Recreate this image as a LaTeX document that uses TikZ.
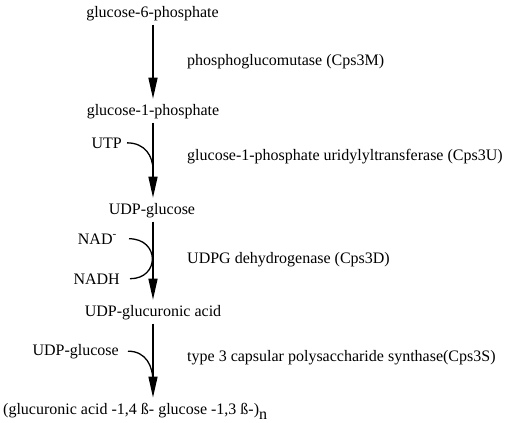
\documentclass[tikz,border=0pt]{standalone}
\usepackage{fontspec}
\setmainfont{Liberation Serif}
\usetikzlibrary{arrows.meta}
\begin{document}
\begin{tikzpicture}[x=1pt,y=-1pt,
  lbl/.style={inner sep=0pt,anchor=base,font=\fontsize{16}{19}\selectfont},
  enz/.style={lbl,anchor=base west},
  sidelbl/.style={lbl,anchor=base east},
  rxn/.style={line width=1.4pt,-{Triangle[length=21pt,width=9pt]},shorten <=4pt,shorten >=5pt},
  side/.style={line width=1.3pt}]
\useasboundingbox (0,0) rectangle (512,423);
\coordinate (col) at (153,0);
% metabolites
\node[lbl] (g6p) at (152.5,17) {glucose-6-phosphate};
\node[lbl] (g1p) at (153,115) {glucose-1-phosphate};
\node[lbl] (udpg) at (152,214) {UDP-glucose};
\node[lbl] (udpga) at (153,316) {UDP-glucuronic acid};
\node[lbl,anchor=base west] (poly) at (3,414) {(glucuronic acid -1,4 ß- glucose -1,3 ß-)\raisebox{-5pt}{n}};
% enzymes
\node[enz] (e1) at (187,65) {phosphoglucomutase (Cps3M)};
\node[enz] (e2) at (187,160) {glucose-1-phosphate uridylyltransferase (Cps3U)};
\node[enz] (e3) at (187,263) {UDPG dehydrogenase (Cps3D)};
\node[enz] (e4) at (187,361) {type 3 capsular polysaccharide synthase(Cps3S)};
% cosubstrates
\node[sidelbl] (utp) at (122,148) {UTP};
\node[sidelbl] (nad) at (117,244) {NAD\textsuperscript{-}};
\node[sidelbl] (nadh) at (120,284) {NADH};
\node[sidelbl] (udpg2) at (119,355) {UDP-glucose};
% main arrows
\draw[rxn] (g6p.south -| col) -- (g1p.north -| col);
\draw[rxn] (g1p.south -| col) -- (udpg.north -| col);
\draw[rxn] (udpg.south -| col) -- (udpga.north -| col);
\draw[rxn] (udpga.south -| col) -- (col |- poly.north);
% side curves
\coordinate (j1) at (153,170);
\coordinate (j3) at (153,382);
\draw[side] ([xshift=5pt]utp.east) .. controls +(18,0) and +(0,-14) .. (j1);
\draw[side] ([xshift=12pt]nad.east) .. controls +(31,0) and +(30,0) .. ([xshift=10pt]nadh.east);
\draw[side] ([xshift=9pt]udpg2.east) .. controls +(18,0) and +(0,-16) .. (j3);
\end{tikzpicture}
\end{document}
